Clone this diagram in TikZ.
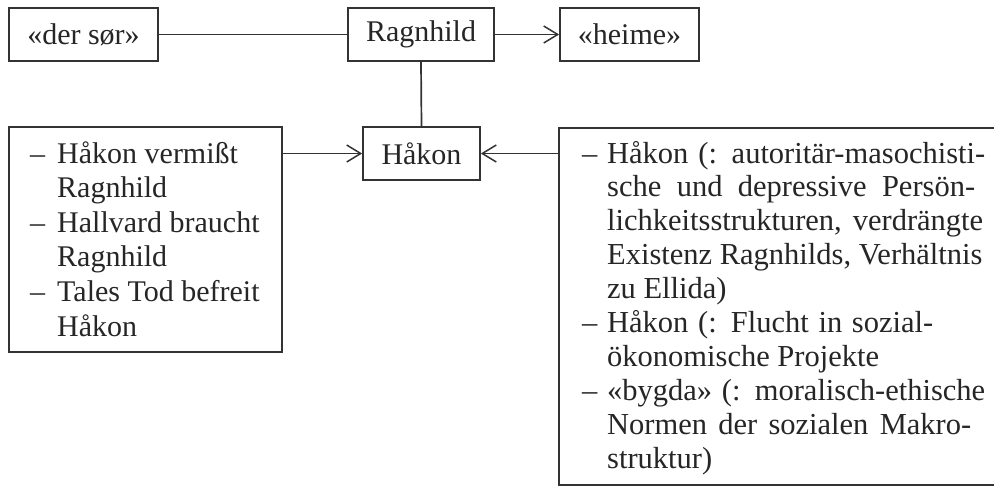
\documentclass[tikz,border=0pt]{standalone}
\usepackage{fontspec}
\setmainfont{Liberation Serif}
\usetikzlibrary{arrows.meta}
\begin{document}
\begin{tikzpicture}[x=1pt,y=-1pt,
  box/.style={draw=black!80,line width=1.7pt,inner sep=0pt,text=black!85,
    font=\fontsize{30}{34.6}\selectfont},
  conn/.style={draw=black!80,line width=1.7pt},
  arr/.style={conn,-{Straight Barb[length=14pt,width=17pt,line width=1.5pt]}},
  txt/.style={inner sep=0pt,anchor=base west,text=black!85}]
\useasboundingbox (0,0) rectangle (994,488);
\fill[white] (0,0) rectangle (994,488);
% top row
\node[box,minimum width=149pt,minimum height=53pt] (dersor) at (83.5,34.5) {«der sør»};
\node[box,minimum width=146pt,minimum height=53pt] (ragn) at (421,34.5) {Ragnhild};
\node[box,minimum width=139pt,minimum height=53pt] (heime) at (629.5,34.5) {«heime»};
% Hakon
\node[box,minimum width=117pt,minimum height=53pt] (hakon) at (421.5,153.5) {Håkon};
% left box
\node[box,minimum width=273pt,minimum height=225pt] (lbox) at (145.5,239.5) {};
\node[txt,font=\fontsize{30}{34.6}\selectfont] (ltext) at (30,163) {\parbox[t]{250pt}{\raggedright
\makebox[27pt][l]{–}Håkon vermißt\\
\hspace*{27pt}Ragnhild\\
\makebox[27pt][l]{–}Hallvard braucht\\
\hspace*{27pt}Ragnhild\\
\makebox[27pt][l]{–}Tales Tod befreit\\
\hspace*{27pt}Håkon}};
% right box (open to the right edge)
\node[minimum width=435pt,minimum height=357pt,inner sep=0pt] (rbox) at (776.5,306.5) {};
\draw[conn] (rbox.north east) -- (rbox.north west) -- (rbox.south west) -- (rbox.south east);
\node[txt,font=\fontsize{30.5}{33.9}\selectfont] (rtext) at (582,163) {\parbox[t]{410pt}{\raggedright
\makebox[25pt][l]{–}\makebox[378pt][s]{Håkon (: autoritär-masochisti-}\\
\hspace*{25pt}\makebox[368pt][s]{sche und depressive Persön-}\\
\hspace*{25pt}\makebox[376pt][s]{lichkeitsstrukturen, verdrängte}\\
\hspace*{25pt}Existenz Ragnhilds, Verhältnis\\
\hspace*{25pt}zu Ellida)\\
\makebox[25pt][l]{–}\makebox[326pt][s]{Håkon (: Flucht in sozial-}\\
\hspace*{25pt}ökonomische Projekte\\
\makebox[25pt][l]{–}\makebox[378pt][s]{«bygda» (: moralisch-ethische}\\
\hspace*{25pt}\makebox[364pt][s]{Normen der sozialen Makro-}\\
\hspace*{25pt}struktur)}};
% connectors
\draw[conn] (dersor) -- (ragn);
\draw[arr] (ragn) -- (heime);
\draw[conn] (ragn.south) -- (hakon.north);
\draw[arr] (lbox.east |- hakon) -- (hakon.west);
\draw[arr] (rbox.west |- hakon) -- (hakon.east);
\end{tikzpicture}
\end{document}
